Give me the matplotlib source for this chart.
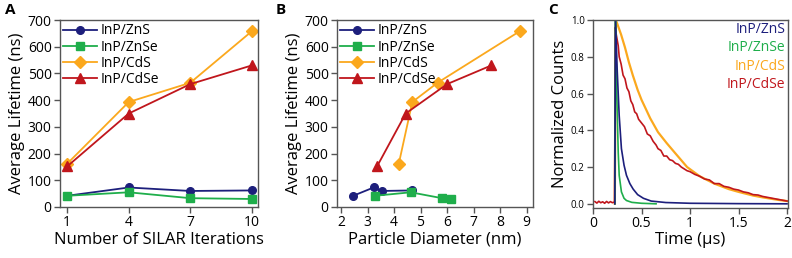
import numpy as np
import matplotlib
matplotlib.use("Agg")
import matplotlib.pyplot as plt

plt.rcParams['font.family'] = ['Open Sans', 'DejaVu Sans']

# Panel A / B data
labels = ["InP/ZnS", "InP/ZnSe", "InP/CdS", "InP/CdSe"]
colors = ["#1d1f7c", "#1fae4b", "#fba81d", "#c0161c"]
markers = ["o", "s", "D", "^"]
msizes = [5.5, 5.5, 6.0, 6.5]

silar = [1, 4, 7, 10]
life_zns = [42, 73, 60, 62]
life_znse = [42, 55, 33, 30]
life_cds = [162, 393, 465, 658]
life_cdse = [152, 350, 460, 530]

diam_zns = [2.46, 3.23, 3.53, 4.68]
diam_znse = [3.28, 4.63, 5.81, 6.15]
diam_cds = [4.18, 4.69, 5.64, 8.74]
diam_cdse = [3.36, 4.44, 6.00, 7.67]

lifetimes = [life_zns, life_znse, life_cds, life_cdse]
diameters = [diam_zns, diam_znse, diam_cds, diam_cdse]

# Panel C decay traces
t_zns = [0.225, 0.232, 0.25, 0.27, 0.293, 0.32, 0.345, 0.38, 0.414, 0.46, 0.52, 0.6, 0.75, 1.0, 1.5, 2.0]
c_zns = [0.0, 1.0, 0.72, 0.48, 0.30, 0.21, 0.155, 0.11, 0.08, 0.05, 0.03, 0.015, 0.007, 0.003, 0.001, 0.0]
t_znse = [0.225, 0.232, 0.245, 0.26, 0.27, 0.293, 0.32, 0.345, 0.4, 0.5, 0.65]
c_znse = [0.0, 1.0, 0.6, 0.28, 0.155, 0.065, 0.03, 0.018, 0.008, 0.003, 0.0]
t_cds = [0.225, 0.235, 0.25, 0.29, 0.33, 0.37, 0.41, 0.46, 0.50, 0.55, 0.59, 0.67, 0.76, 0.85, 0.97,
         1.1, 1.25, 1.4, 1.5, 1.65, 1.75, 1.9, 2.0]
c_cds = [0.0, 1.0, 0.98, 0.92, 0.85, 0.77, 0.70, 0.62, 0.566, 0.51, 0.465, 0.39, 0.33, 0.274, 0.20,
         0.15, 0.11, 0.08, 0.065, 0.045, 0.035, 0.022, 0.015]
t_cdse = [0.02, 0.04, 0.06, 0.08, 0.10, 0.12, 0.14, 0.16, 0.18, 0.20, 0.222, 0.23, 0.24, 0.26, 0.27,
          0.29, 0.31, 0.33, 0.35, 0.37, 0.39, 0.41, 0.43, 0.45, 0.47, 0.50, 0.53, 0.56, 0.59, 0.62,
          0.65, 0.67, 0.70, 0.73, 0.76, 0.79, 0.82, 0.85, 0.88, 0.91, 0.94, 0.97, 1.0, 1.05, 1.1,
          1.15, 1.2, 1.25, 1.3, 1.35, 1.4, 1.45, 1.5, 1.55, 1.6, 1.65, 1.7, 1.75, 1.8, 1.85, 1.9,
          1.95, 2.0]
c_cdse = [0.012, 0.004, 0.014, 0.006, 0.011, 0.003, 0.013, 0.005, 0.012, 0.006, 0.01, 0.96, 0.92, 0.86, 0.80,
          0.76, 0.70, 0.68, 0.63, 0.61, 0.56, 0.54, 0.50, 0.49, 0.46, 0.44, 0.42, 0.38, 0.37, 0.34,
          0.32, 0.30, 0.29, 0.26, 0.26, 0.24, 0.235, 0.22, 0.215, 0.20, 0.19, 0.18, 0.175, 0.16, 0.15,
          0.135, 0.13, 0.11, 0.11, 0.095, 0.09, 0.08, 0.075, 0.065, 0.06, 0.05, 0.048, 0.04, 0.035, 0.03, 0.025,
          0.02, 0.015]

spine_col = "#555555"

def style(ax):
    for s in ax.spines.values():
        s.set_color(spine_col)
        s.set_linewidth(1.0)
    ax.tick_params(direction="out", length=4, width=1, color=spine_col,
                   labelsize=10, pad=2, top=False, right=False)

fig = plt.figure(figsize=(7.92, 2.58), dpi=100)
W, H = 792.0, 258.0

def axes_at(x0, x1, y0, y1):
    return fig.add_axes([x0 / W, 1 - y1 / H, (x1 - x0) / W, (y1 - y0) / H])

axA = axes_at(60, 258, 20, 207)
axB = axes_at(337, 533, 20, 207)
axC = axes_at(593, 788, 20, 207.5)

leg_kw = dict(loc="upper left", frameon=False, fontsize=10, handlelength=2.4,
              borderaxespad=0.15, borderpad=0.1, labelspacing=0.08, handletextpad=0.25)

# Panel A
for y, lab, c, m, ms in zip(lifetimes, labels, colors, markers, msizes):
    axA.plot(silar, y, color=c, marker=m, ms=ms, lw=1.3, label=lab)
axA.set_xlim(0.65, 10.3)
axA.set_ylim(0, 700)
axA.set_xticks(silar)
axA.set_yticks(range(0, 701, 100))
axA.set_xlabel("Number of SILAR Iterations", fontsize=12, labelpad=1)
axA.set_ylabel("Average Lifetime (ns)", fontsize=12, labelpad=2)
style(axA)
axA.legend(**leg_kw)

# Panel B
for x, y, lab, c, m, ms in zip(diameters, lifetimes, labels, colors, markers, msizes):
    axB.plot(x, y, color=c, marker=m, ms=ms, lw=1.3, label=lab)
axB.set_xlim(1.85, 9.24)
axB.set_ylim(0, 700)
axB.set_xticks(range(2, 10))
axB.set_yticks(range(0, 701, 100))
axB.set_xlabel("Particle Diameter (nm)", fontsize=12, labelpad=1)
axB.set_ylabel("Average Lifetime (ns)", fontsize=12, labelpad=2)
style(axB)
axB.legend(**leg_kw)

# Panel C
axC.plot(t_cds, c_cds, color=colors[2], lw=1.6)
axC.plot(t_cdse, c_cdse, color=colors[3], lw=1.2)
axC.plot(t_znse, c_znse, color=colors[1], lw=1.2)
axC.plot(t_zns, c_zns, color=colors[0], lw=1.2)
axC.set_xlim(0, 2.01)
axC.set_ylim(-0.02, 1.0)
axC.set_xticks([0, 0.5, 1, 1.5, 2])
axC.set_xticklabels(["0", "0.5", "1", "1.5", "2"])
axC.set_yticks([0, 0.2, 0.4, 0.6, 0.8, 1.0])
axC.set_yticklabels(["0.0", "0.2", "0.4", "0.6", "0.8", "1.0"])
axC.set_xlabel("Time (\u00b5s)", fontsize=12, labelpad=1)
axC.set_ylabel("Normalized Counts", fontsize=12, labelpad=2)
style(axC)
axC.tick_params(axis="y", labelsize=7)
for i, (lab, c) in enumerate(zip(labels, colors)):
    axC.text(0.985, 0.95 - i * 0.098, lab, color=c, fontsize=10, ha="right", va="center",
             transform=axC.transAxes)

# Panel letters
fig.text(5 / W, 1 - 10 / H, "A", fontsize=11, fontweight="bold", va="center")
fig.text(276 / W, 1 - 10 / H, "B", fontsize=11, fontweight="bold", va="center")
fig.text(548 / W, 1 - 10 / H, "C", fontsize=11, fontweight="bold", va="center")

fig.savefig("out.png", dpi=100)
